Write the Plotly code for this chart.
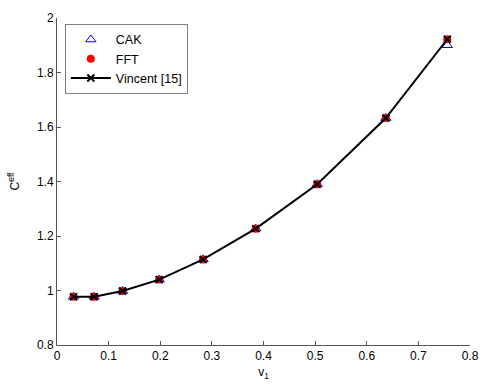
import plotly.graph_objects as go

v1 = [0.032, 0.072, 0.127, 0.198, 0.283, 0.385, 0.504, 0.637, 0.756]
cak = [0.977, 0.977, 0.998, 1.040, 1.114, 1.227, 1.390, 1.633, 1.900]
fft = [0.977, 0.977, 0.998, 1.040, 1.114, 1.227, 1.390, 1.633, 1.922]
vincent = [0.977, 0.977, 0.998, 1.040, 1.114, 1.227, 1.390, 1.633, 1.922]

xticks = [0, 0.1, 0.2, 0.3, 0.4, 0.5, 0.6, 0.7, 0.8]
yticks = [0.8, 1, 1.2, 1.4, 1.6, 1.8, 2]

font = "Liberation Sans, Arial, sans-serif"

fig = go.Figure()
fig.add_trace(go.Scatter(x=v1, y=cak, mode="markers", name="CAK",
                         marker=dict(symbol="triangle-up-open", size=9, color="#0000ff",
                                     line=dict(width=1, color="#0000ff"))))
fig.add_trace(go.Scatter(x=v1, y=fft, mode="markers", name="FFT",
                         marker=dict(symbol="circle", size=8, color="#ff0000",
                                     line=dict(width=0))))
fig.add_trace(go.Scatter(x=v1, y=vincent, mode="lines+markers", name="Vincent [15]",
                         line=dict(color="black", width=2),
                         marker=dict(symbol="x-thin-open", size=7, color="black",
                                     line=dict(width=2, color="black"))))

fig.update_layout(
    width=490, height=388,
    margin=dict(l=57, r=11, t=16, b=42),
    paper_bgcolor="white", plot_bgcolor="white",
    font=dict(family=font, size=12, color="black"),
    showlegend=True,
    legend=dict(x=0.019, y=0.982, xanchor="left", yanchor="top",
                bordercolor="#808080", borderwidth=1, bgcolor="white",
                font=dict(size=12.5), tracegroupgap=0, itemwidth=40),
)
fig.update_xaxes(range=[0, 0.8], tickvals=xticks, ticktext=[f"{t:g}" for t in xticks],
                 showgrid=False, zeroline=False, showline=True, linecolor="#555555",
                 linewidth=1, ticks="inside", ticklen=4, tickcolor="#555555",
                 tickfont=dict(size=12),
                 title=dict(text="v<sub>1</sub>", standoff=5, font=dict(size=12)))
fig.update_yaxes(range=[0.8, 2], tickvals=yticks, ticktext=[f"{t:g}" for t in yticks],
                 showgrid=False, zeroline=False, showline=True, linecolor="#555555",
                 linewidth=1, ticks="inside", ticklen=4, tickcolor="#555555",
                 tickfont=dict(size=12),
                 title=dict(text="C<sup>eff</sup>", standoff=14, font=dict(size=12)))

fig.write_html("out.html")
